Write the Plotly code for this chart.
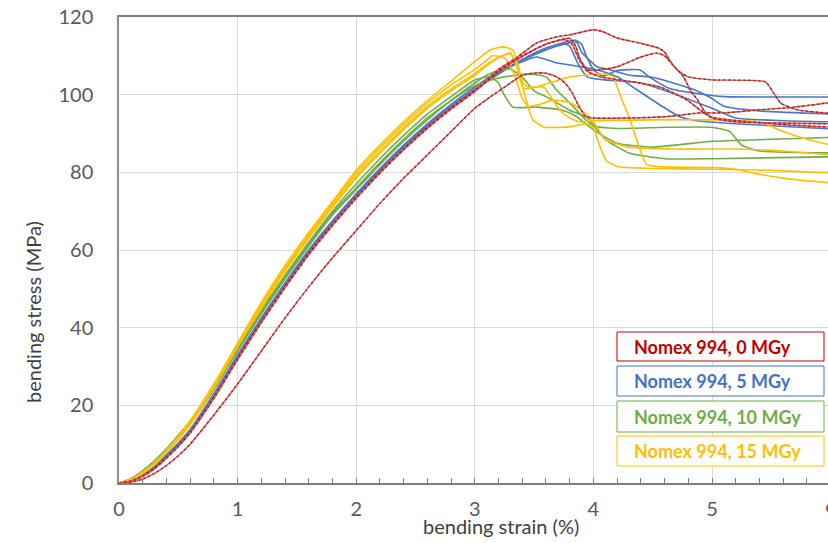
import plotly.graph_objects as go

# ---------------- data ----------------
rise_strain = [0, 0.1, 0.2, 0.3, 0.4, 0.5, 0.6, 0.8, 1.0, 1.2, 1.4, 1.6, 1.8, 2.0, 2.2, 2.4, 2.6, 2.8, 3.0]

# Nomex 994, 0 MGy (red dashed)
r1_rise = [0, 0.5, 1.8, 3.8, 6.5, 9.5, 13, 22, 32, 41.5, 50.5, 59, 66.5, 73.5, 80, 86, 91.5, 96.5, 101]
r1_tail_x = [3.2, 3.36, 3.52, 3.69, 3.8, 4.0, 4.08, 4.2, 4.39, 4.55, 4.6, 4.66, 4.72, 4.8, 5.0, 5.45, 5.52, 5.58, 5.72, 5.95, 6.0]
r1_tail_y = [106.5, 109.7, 113.3, 114.9, 115.4, 116.7, 116.2, 114.6, 113.3, 112, 111, 108, 106, 104.6, 103.8, 103.3, 100.4, 97.8, 96.1, 95.3, 95.2]

r2_rise = [0, 0.5, 1.7, 3.7, 6.4, 9.4, 12.9, 21.8, 31.8, 41.3, 50.3, 58.8, 66.3, 73.3, 79.8, 85.8, 91.3, 96.3, 100.8]
r2_tail_x = [3.2, 3.4, 3.6, 3.8, 3.85, 3.89, 3.95, 4.05, 4.2, 4.4, 4.53, 4.6, 4.66, 4.76, 4.82, 4.88, 4.93, 4.99, 5.15, 5.65, 6.0]
r2_tail_y = [106, 110, 113, 114.5, 112.5, 109, 106.4, 106.4, 107.2, 109.7, 110.7, 110, 108, 104.6, 101, 98.6, 96, 94.3, 93.5, 92.2, 91.6]

r3_rise = [0, 0.5, 1.8, 3.8, 6.5, 9.5, 13, 22, 32, 41.6, 50.6, 59.1, 66.6, 73.6, 80.1, 86.1, 91.6, 96.6, 101.1]
r3_tail_x = [3.2, 3.4, 3.6, 3.75, 3.82, 3.88, 3.95, 4.06, 4.33, 4.56, 4.79, 4.9, 5.0, 5.2, 6.0]
r3_tail_y = [106, 109.8, 113, 114.2, 113, 109, 106, 104.6, 103.3, 102, 98.6, 96, 94, 93, 92.5]

r4_rise = [0, 0.2, 1, 2.5, 4.5, 7, 10, 17.5, 25.5, 34, 42.5, 50.5, 58, 65, 72, 78.5, 84.5, 90.5, 96.5]
r4_tail_x = [3.13, 3.3, 3.4, 3.52, 3.6, 3.69, 3.76, 3.82, 3.87, 3.93, 4.0, 4.3, 4.6, 4.9, 5.1, 5.4, 5.7, 6.0]
r4_tail_y = [99.4, 103, 105, 105.6, 105.5, 104.6, 103, 100.5, 97.5, 94.5, 94, 94, 94.3, 95.3, 95.3, 96.1, 96.8, 98]

# Nomex 994, 5 MGy (blue)
b1_rise = [0, 0.6, 2, 4, 7, 10, 13.5, 22.5, 32.5, 42, 51, 59.5, 67, 74, 80.5, 86.5, 92, 97, 101.5]
b1_tail_x = [3.2, 3.4, 3.55, 3.7, 3.85, 3.9, 3.94, 4.0, 4.08, 4.2, 4.39, 4.47, 4.65, 4.87, 5.1, 5.5, 6.0]
b1_tail_y = [105.5, 109, 111.3, 113, 114, 113, 110, 106.5, 104.8, 106.2, 106.4, 104.6, 101.5, 100.3, 99.5, 99.4, 99.4]

b2_rise = [0, 0.6, 1.9, 3.9, 6.8, 9.8, 13.3, 22.2, 32.2, 41.8, 50.8, 59.3, 66.8, 73.8, 80.3, 86.3, 91.8, 96.8, 101.2]
b2_tail_x = [3.2, 3.4, 3.6, 3.75, 3.86, 3.9, 4.03, 4.14, 4.31, 4.47, 4.59, 4.87, 5.0, 5.1, 5.4, 6.0]
b2_tail_y = [105.3, 108.8, 111.5, 113, 113.5, 111, 107.2, 106.4, 105, 104.6, 103.8, 101, 99, 97, 95.8, 95]

b3_rise = [0, 0.7, 2.1, 4.2, 7.2, 10.3, 13.8, 23, 33, 42.5, 51.5, 60, 67.5, 74.5, 81, 87, 92.5, 97.5, 102]
b3_tail_x = [3.2, 3.4, 3.52, 3.69, 3.89, 4.03, 4.2, 4.37, 4.59, 4.73, 4.87, 5.2, 6.0]
b3_tail_y = [106, 108.5, 109.7, 108.2, 107.2, 106.4, 104.6, 101.2, 96.8, 94.3, 93.3, 92.5, 91.2]

b4_rise = [0, 0.6, 2, 4, 6.9, 9.9, 13.4, 22.3, 32.3, 41.9, 50.9, 59.4, 66.9, 73.9, 80.4, 86.4, 91.9, 96.9, 101.3]
b4_tail_x = [3.2, 3.4, 3.6, 3.75, 3.8, 3.87, 3.95, 4.1, 4.4, 4.7, 5.0, 5.2, 5.6, 6.0]
b4_tail_y = [105.4, 109, 112, 113.2, 112.5, 108, 104.5, 103.8, 103, 100, 96.5, 94, 93.3, 93]

# Nomex 994, 10 MGy (green)
g1_rise = [0, 1.1, 3.2, 5.8, 8.8, 12.3, 16, 25, 35, 44.5, 53.5, 62, 70, 77, 83.5, 89.5, 95, 99.5, 103.8]
g1_tail_x = [3.13, 3.2, 3.24, 3.32, 3.52, 3.74, 3.85, 4.0, 4.2, 4.5, 5.0, 5.5, 6.0]
g1_tail_y = [104.6, 103, 100.4, 96.8, 96.8, 96, 94.5, 91, 87.5, 86.5, 88, 88.5, 89]

g2_rise = [0, 1, 3, 5.5, 8.5, 12, 15.5, 24.5, 34.5, 44, 53, 61.5, 69.5, 76, 82.5, 88.5, 94, 98.5, 102.3]
g2_tail_x = [3.2, 3.35, 3.44, 3.55, 3.61, 3.69, 3.8, 3.91, 4.0, 4.2, 4.6, 5.0, 5.15, 5.25, 5.4, 6.0]
g2_tail_y = [104.3, 105, 105.3, 105, 104.4, 101.2, 97.9, 94.3, 92, 91.3, 91.6, 91.6, 90.5, 87, 85.5, 85]

g3_rise = [0, 1, 2.9, 5.4, 8.3, 11.7, 15.2, 24, 34, 43.5, 52.5, 61, 69, 75.5, 82, 88, 93.5, 98.5, 103]
g3_tail_x = [3.1, 3.2, 3.3, 3.4, 3.5, 3.6, 3.8, 3.95, 4.1, 4.3, 4.6, 5.0, 6.0]
g3_tail_y = [105, 106.2, 106.6, 104.5, 101, 99.5, 96, 94, 88.5, 85, 83.5, 83.5, 84]

# Nomex 994, 15 MGy (yellow)
y1_rise = [0, 0.9, 2.8, 5.3, 8.4, 12, 16, 25.5, 36, 46.5, 56, 64.5, 72.5, 80.5, 87, 93, 98.5, 103.5, 108.5]
y1_tail_x = [3.13, 3.24, 3.32, 3.36, 3.41, 3.45, 3.49, 3.58, 3.8, 3.94, 4.0, 4.05, 4.11, 4.2, 4.5, 5.0, 5.5, 5.9, 6.0]
y1_tail_y = [111.5, 112.3, 111.5, 108.2, 101.2, 96.8, 93.5, 91.7, 91.7, 92.5, 91.5, 87, 83, 81.5, 81, 80.8, 80.5, 80, 80]

y2_rise = [0, 0.8, 2.6, 5, 8, 11.5, 15.5, 25, 35.5, 45.5, 55, 63.5, 71.5, 79, 85.5, 91.5, 97, 101.5, 105.5]
y2_tail_x = [3.1, 3.2, 3.3, 3.35, 3.41, 3.45, 3.52, 3.66, 3.8, 4.1, 4.17, 4.2, 4.25, 4.31, 4.38, 4.45, 4.6, 5.0, 5.2, 5.4, 5.6, 5.8, 6.0]
y2_tail_y = [107.8, 109.6, 110.5, 108, 103, 102, 102, 103.3, 104.6, 105.3, 104.6, 102, 98, 93.5, 87, 82, 81.4, 81.2, 80.8, 79.5, 78.5, 77.8, 77.3]

y3_rise = [0, 0.8, 2.5, 4.8, 7.8, 11.2, 15, 24.5, 35, 45, 54.5, 63, 71, 78.5, 85, 91, 96.5, 101, 105]
y3_tail_x = [3.1, 3.2, 3.3, 3.35, 3.41, 3.47, 3.58, 3.64, 3.72, 3.8, 3.89, 4.0, 4.5, 5.0, 5.4, 5.6, 5.8, 6.0]
y3_tail_y = [107.5, 109.5, 110.8, 107.5, 101.5, 101.7, 102, 99.4, 96, 94, 93, 93.3, 93.5, 93.5, 93, 90.5, 88.5, 87]

y4_rise = [0, 0.9, 2.7, 5.2, 8.2, 11.8, 15.8, 25.3, 35.8, 46, 55.5, 64, 72, 79.8, 86.3, 92.3, 97.8, 102.5, 106.5]
y4_tail_x = [3.1, 3.15, 3.25, 3.33, 3.4, 3.45, 3.55, 3.66, 3.8, 3.9, 4.0, 4.1, 4.3, 4.7, 5.2, 5.6, 6.0]
y4_tail_y = [108.8, 110, 109.5, 105.5, 99, 97, 97.5, 98.6, 98, 96, 93, 88.5, 86.5, 86, 86, 85.5, 84.5]

legend_labels = ["Nomex 994, 0 MGy", "Nomex 994, 5 MGy", "Nomex 994, 10 MGy", "Nomex 994, 15 MGy"]
x_tick_vals = [0, 1, 2, 3, 4, 5, 6]
y_tick_vals = [0, 20, 40, 60, 80, 100, 120]

# ---------------- styling ----------------
RED, RED_DARK = "#F04848", "#8E2E2E"
BLUE, GREEN, YELLOW = "#4A76C6", "#70AD47", "#FFC000"
FONT = "Lato"

groups = [
    ("blue", BLUE, [(b1_rise, b1_tail_x, b1_tail_y), (b2_rise, b2_tail_x, b2_tail_y),
                    (b3_rise, b3_tail_x, b3_tail_y), (b4_rise, b4_tail_x, b4_tail_y)]),
    ("green", GREEN, [(g1_rise, g1_tail_x, g1_tail_y), (g2_rise, g2_tail_x, g2_tail_y),
                      (g3_rise, g3_tail_x, g3_tail_y)]),
    ("yellow", YELLOW, [(y1_rise, y1_tail_x, y1_tail_y), (y2_rise, y2_tail_x, y2_tail_y),
                        (y3_rise, y3_tail_x, y3_tail_y), (y4_rise, y4_tail_x, y4_tail_y)]),
    ("red", RED, [(r1_rise, r1_tail_x, r1_tail_y), (r2_rise, r2_tail_x, r2_tail_y),
                  (r3_rise, r3_tail_x, r3_tail_y), (r4_rise, r4_tail_x, r4_tail_y)]),
]

fig = go.Figure()
for name, color, curves in groups:
    for rise, tx, ty in curves:
        xs = rise_strain + tx
        ys = rise + ty
        if name == "red":
            fig.add_trace(go.Scatter(x=xs, y=ys, mode="lines", showlegend=False, hoverinfo="skip",
                                     line=dict(color=RED, width=1.4, shape="spline", smoothing=0.5)))
            fig.add_trace(go.Scatter(x=xs, y=ys, mode="lines", showlegend=False, hoverinfo="skip",
                                     line=dict(color=RED_DARK, width=1.5, dash="2px,3px",
                                               shape="spline", smoothing=0.5)))
        else:
            fig.add_trace(go.Scatter(x=xs, y=ys, mode="lines", showlegend=False, hoverinfo="skip",
                                     line=dict(color=color, width=1.6, shape="spline", smoothing=0.5)))

# plot area geometry (pixels)
W, H = 828, 543
L, T, B = 119, 17, 60
PW, PH = W - L, H - T - B
PX_PER_X = 118.6
x_max = PW / PX_PER_X


def px_to_paper(px, py):
    return (px - L) / PW, (H - B - py) / PH


fig.update_layout(
    width=W, height=H,
    margin=dict(l=L, r=0, t=T, b=B, pad=0),
    paper_bgcolor="white", plot_bgcolor="white",
    font=dict(family=FONT, size=20, color="#595959"),
    showlegend=False,
)
fig.update_xaxes(
    range=[0, x_max], tickvals=x_tick_vals, showgrid=True, gridcolor="#D9D9D9", gridwidth=1,
    zeroline=False, showline=True, linecolor="#7F7F7F", linewidth=1.5, mirror=True,
    ticks="inside", ticklen=5, tickcolor="#7F7F7F",
    minor=dict(dtick=0.2, ticks="inside", ticklen=5, tickcolor="#7F7F7F", showgrid=False),
    tickfont=dict(family=FONT, size=20, color="#595959"), ticklabelstandoff=7,
)
fig.update_yaxes(
    range=[0, 120], tickvals=y_tick_vals, showgrid=True, gridcolor="#D9D9D9", gridwidth=1,
    zeroline=False, showline=True, linecolor="#8C8C8C", linewidth=1.5,
    ticks="", tickfont=dict(family=FONT, size=20, color="#595959"), ticklabelstandoff=20,
)

# the partially visible "6" tick label at the clipped right edge
x6, _ = px_to_paper(L + 6 * PX_PER_X, 0)
fig.add_annotation(x=x6, y=0, xref="paper", yref="paper", text="6", showarrow=False,
                   xanchor="center", yanchor="top", yshift=-8,
                   font=dict(family=FONT, size=20, color="#595959"))

# axis titles
tx, ty = px_to_paper(501, 526)
fig.add_annotation(x=tx, y=ty, xref="paper", yref="paper", text="bending strain (%)",
                   showarrow=False, xanchor="center", yanchor="middle",
                   font=dict(family=FONT, size=20, color="#404040"))
tx, ty = px_to_paper(33, 312)
fig.add_annotation(x=tx, y=ty, xref="paper", yref="paper", text="bending stress (MPa)",
                   showarrow=False, xanchor="center", yanchor="middle", textangle=-90,
                   font=dict(family=FONT, size=20, color="#404040"))

# legend boxes (outline shapes) and their labels
legend_colors = ["#C00000", "#4472C4", "#70AD47", "#FFC000"]
legend_boxes_py = [(332, 361), (366, 396), (401, 432), (436, 466)]
for label, col, (top, bot) in zip(legend_labels, legend_colors, legend_boxes_py):
    x0, y0 = px_to_paper(617, bot)
    x1, y1 = px_to_paper(824, top)
    fig.add_shape(type="rect", xref="paper", yref="paper", x0=x0, x1=x1, y0=y0, y1=y1,
                  line=dict(color=col, width=1), fillcolor="white", layer="above")
    ax_, ay_ = px_to_paper(632, (top + bot) / 2)
    fig.add_annotation(x=ax_, y=ay_, xref="paper", yref="paper", text=label, showarrow=False,
                       xanchor="left", yanchor="middle",
                       font=dict(family=FONT, size=18, color=col, weight="bold"))

fig.write_html("out.html")
